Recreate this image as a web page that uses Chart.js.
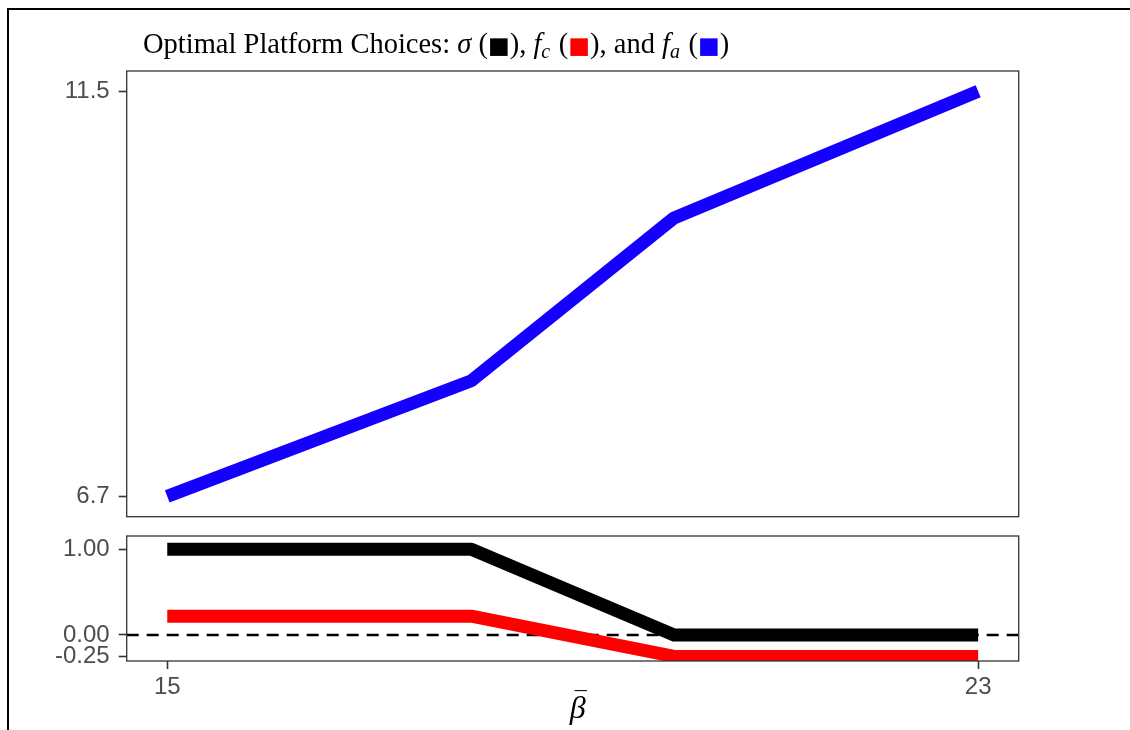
<!DOCTYPE html>
<html>
<head>
<meta charset="utf-8">
<script src="https://cdn.jsdelivr.net/npm/chart.js@4/dist/chart.umd.min.js"></script>
<style>
  html, body { margin: 0; padding: 0; background: #fff; }
  #page { position: relative; width: 1130px; height: 730px; overflow: hidden; }
  #frame { position: absolute; left: 7px; top: 8px; width: 1130px; height: 730px;
           border-left: 2px solid #000; border-top: 2px solid #000; box-sizing: border-box; }
  canvas { position: absolute; left: 0; }
  #topCanvas { top: 0; }
  #bottomCanvas { top: 530px; }
</style>
</head>
<body>
<div id="page">
  <div id="frame"></div>
  <canvas id="topCanvas" width="1130" height="530"></canvas>
  <canvas id="bottomCanvas" width="1130" height="200"></canvas>
</div>
<script>
// beta-bar values on the horizontal axis
const betaBar = [15, 18, 20, 23];
// optimal platform choices
const sigma = [1, 1, 0, 0];
const fc = [0.22, 0.22, -0.25, -0.25];
const fa = [6.7, 8.07, 10.0, 11.5];
// tick labels
const xTicks = [15, 23];
const faTicks = [6.7, 11.5];
const lowerTicks = [-0.25, 0, 1];

const BLUE = '#1500ff';
const RED = '#ff0000';
const BLACK = '#000000';

const LEFT_W = 126.7;     // width reserved for the y axis
const RIGHT_PAD = 111.3;  // space right of the panel
const SANS = '"Liberation Sans", Arial, sans-serif';
const SERIF = '"Liberation Serif", "DejaVu Serif", serif';

Chart.defaults.animation = false;
Chart.defaults.font.family = SANS;

const pts = (xs, ys) => xs.map((x, i) => ({ x: x, y: ys[i] }));

function lineSet(label, ys, color) {
  return {
    label: label,
    data: pts(betaBar, ys),
    borderColor: color,
    backgroundColor: color,
    borderWidth: 13,
    borderCapStyle: 'butt',
    borderJoinStyle: 'round',
    pointRadius: 0,
    tension: 0,
    fill: false,
    clip: 0
  };
}

function yAxis(min, max, ticks, digits) {
  return {
    type: 'linear',
    min: min,
    max: max,
    afterFit: s => { s.width = LEFT_W; s.paddingTop = 0; s.paddingBottom = 0; },
    afterBuildTicks: s => { s.ticks = ticks.map(v => ({ value: v })); },
    ticks: {
      callback: v => Number(v).toFixed(digits),
      font: { size: 24, family: SANS },
      color: '#4d4d4d',
      padding: 9,
      autoSkip: false
    },
    grid: { drawOnChartArea: false, drawTicks: true, tickLength: 8, tickColor: '#333333', tickWidth: 1.6 },
    border: { display: false }
  };
}

// panel frame drawn over the data lines
const panelBox = {
  id: 'panelBox',
  afterDatasetsDraw(chart) {
    const a = chart.chartArea, c = chart.ctx;
    c.save();
    c.strokeStyle = '#333333';
    c.lineWidth = 1.3;
    c.strokeRect(a.left, a.top, a.right - a.left, a.bottom - a.top);
    c.restore();
  }
};

// dashed reference line at zero
const zeroLine = {
  id: 'zeroLine',
  beforeDatasetsDraw(chart) {
    const a = chart.chartArea, c = chart.ctx;
    const y = chart.scales.y.getPixelForValue(0);
    c.save();
    c.strokeStyle = '#000';
    c.lineWidth = 2.6;
    c.setLineDash([12, 8]);
    c.beginPath();
    c.moveTo(a.left, y);
    c.lineTo(a.right, y);
    c.stroke();
    c.restore();
  }
};

// mixed-style title: upright text, italic symbols with subscripts, coloured squares
const titleRow = {
  id: 'titleRow',
  afterDraw(chart) {
    const c = chart.ctx;
    const size = 28.5;
    const roman = size + 'px ' + SERIF;
    const ital = 'italic ' + size + 'px ' + SERIF;
    const sub = 'italic ' + Math.round(size * 0.7) + 'px ' + SERIF;
    const sq = Math.round(size * 0.8) + 'px "DejaVu Sans"';
    const parts = [
      { t: 'Optimal Platform Choices: ', f: roman },
      { t: 'σ', f: ital },
      { t: ' (', f: roman },
      { t: '■', f: sq, col: BLACK },
      { t: '), ', f: roman },
      { t: 'f', f: ital },
      { t: 'c', f: sub, dy: 5 },
      { t: ' (', f: roman },
      { t: '■', f: sq, col: RED },
      { t: '), and ', f: roman },
      { t: 'f', f: ital },
      { t: 'a', f: sub, dy: 5 },
      { t: ' (', f: roman },
      { t: '■', f: sq, col: BLUE },
      { t: ')', f: roman }
    ];
    let x = 143;
    const base = 53;
    c.save();
    c.textBaseline = 'alphabetic';
    c.textAlign = 'left';
    for (const p of parts) {
      c.font = p.f;
      c.fillStyle = p.col || '#000';
      c.fillText(p.t, x, base + (p.dy || 0));
      x += c.measureText(p.t).width + (p.dy ? 1.5 : 0);
    }
    c.restore();
  }
};

// axis title: beta with a bar
const xTitle = {
  id: 'xTitle',
  afterDraw(chart) {
    const c = chart.ctx;
    const a = chart.chartArea;
    const cx = (a.left + a.right) / 2 + 5;
    c.save();
    c.fillStyle = '#000';
    c.textAlign = 'center';
    c.textBaseline = 'alphabetic';
    c.font = 'italic 32px ' + SERIF;
    c.fillText('β', cx, 188);
    c.font = '24px ' + SERIF;
    c.fillText('¯', cx + 3, 178);
    c.restore();
  }
};

new Chart(document.getElementById('topCanvas'), {
  type: 'line',
  data: { datasets: [lineSet('f_a', fa, BLUE)] },
  options: {
    responsive: false,
    animation: false,
    layout: { padding: { top: 71, right: RIGHT_PAD, bottom: 13.3, left: 0 } },
    plugins: { legend: { display: false }, tooltip: { enabled: false }, title: { display: false } },
    scales: {
      x: { type: 'linear', min: 14.6, max: 23.4, display: false },
      y: yAxis(6.46, 11.74, faTicks, 1)
    }
  },
  plugins: [panelBox, titleRow]
});

new Chart(document.getElementById('bottomCanvas'), {
  type: 'line',
  data: { datasets: [lineSet('sigma', sigma, BLACK), lineSet('f_c', fc, RED)] },
  options: {
    responsive: false,
    animation: false,
    layout: { padding: { top: 6, right: RIGHT_PAD, bottom: 0, left: 0 } },
    plugins: { legend: { display: false }, tooltip: { enabled: false }, title: { display: false } },
    scales: {
      x: {
        type: 'linear',
        min: 14.6,
        max: 23.4,
        afterFit: s => { s.height = 69; s.paddingLeft = 0; s.paddingRight = 0; },
        afterBuildTicks: s => { s.ticks = xTicks.map(v => ({ value: v })); },
        ticks: { font: { size: 24, family: SANS }, color: '#4d4d4d', padding: 4, autoSkip: false, maxRotation: 0 },
        grid: { drawOnChartArea: false, drawTicks: true, tickLength: 8, tickColor: '#333333', tickWidth: 1.6 },
        border: { display: false }
      },
      y: yAxis(-0.304, 1.156, lowerTicks, 2)
    }
  },
  plugins: [zeroLine, panelBox, xTitle]
});
</script>
</body>
</html>
